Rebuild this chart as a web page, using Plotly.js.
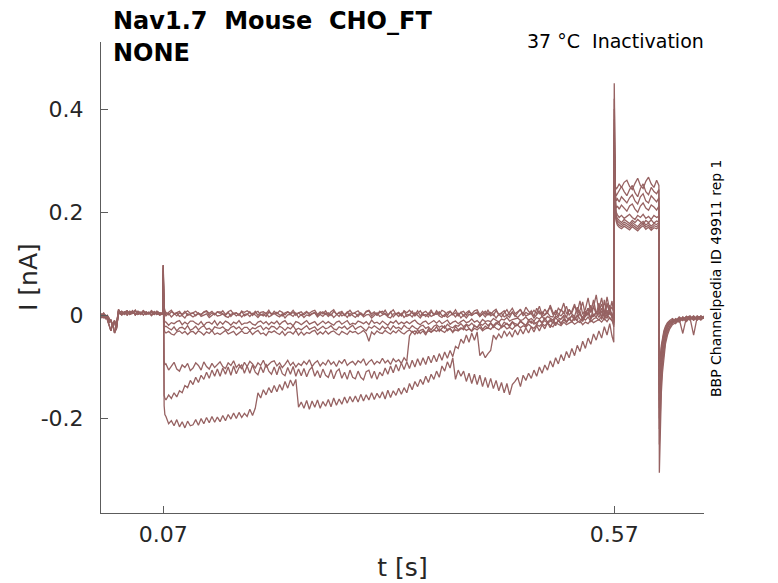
<!DOCTYPE html>
<html>
<head>
<meta charset="utf-8">
<script src="https://cdn.plot.ly/plotly-3.0.1.min.js"></script>
<style>
  html, body { margin: 0; padding: 0; background: #ffffff; }
  #chart { width: 778px; height: 583px; }
</style>
</head>
<body>
<div id="chart"></div>
<script>
// Nav1.7 inactivation traces (current in pA, time in s)

// time stamps of the four protocol segments
const tHold = [0, 0.002, 0.004, 0.006, 0.008, 0.010, 0.012, 0.014, 0.016, 0.018,
  0.0205, 0.021, 0.024, 0.027, 0.030, 0.033, 0.036, 0.039, 0.042, 0.045,
  0.048, 0.051, 0.054, 0.057, 0.060, 0.063, 0.066, 0.0695];

const tPre = [0.0700, 0.0702, 0.0705, 0.0710, 0.0718,
  0.073, 0.076, 0.079, 0.082, 0.085, 0.088, 0.091, 0.094, 0.097, 0.100,
  0.103, 0.106, 0.109, 0.112, 0.115, 0.118, 0.121, 0.124, 0.127, 0.130,
  0.133, 0.136, 0.139, 0.142, 0.145, 0.148, 0.151, 0.154, 0.157, 0.160,
  0.163, 0.166, 0.169, 0.172, 0.175, 0.178, 0.181, 0.184, 0.187, 0.190,
  0.193, 0.196, 0.199, 0.202, 0.205, 0.208, 0.211, 0.214, 0.217, 0.220,
  0.223, 0.226, 0.229, 0.232, 0.235, 0.238, 0.241, 0.244, 0.247, 0.250,
  0.253, 0.256, 0.259, 0.262, 0.265, 0.268, 0.271, 0.274, 0.277, 0.280,
  0.283, 0.286, 0.289, 0.292, 0.295, 0.298, 0.301, 0.304, 0.307, 0.310,
  0.313, 0.316, 0.319, 0.322, 0.325, 0.328, 0.331, 0.334, 0.337, 0.340,
  0.343, 0.346, 0.349, 0.352, 0.355, 0.358, 0.361, 0.364, 0.367, 0.370,
  0.373, 0.376, 0.379, 0.382, 0.385, 0.388, 0.391, 0.394, 0.397, 0.400,
  0.403, 0.406, 0.409, 0.412, 0.415, 0.418, 0.421, 0.424, 0.427, 0.430,
  0.433, 0.436, 0.439, 0.442, 0.445, 0.448, 0.451, 0.454, 0.457, 0.460,
  0.463, 0.466, 0.469, 0.472, 0.475, 0.478, 0.481, 0.484, 0.487, 0.490,
  0.493, 0.496, 0.499, 0.502, 0.505, 0.508, 0.511, 0.514, 0.517, 0.520,
  0.523, 0.526, 0.529, 0.532, 0.535, 0.538, 0.541, 0.544, 0.547, 0.550,
  0.553, 0.556, 0.559, 0.562, 0.565,
  0.5675, 0.5695];

const tTest = [0.5700, 0.5703, 0.5707, 0.5713, 0.5722, 0.5735, 0.5755, 0.578, 0.581, 0.584,
  0.587, 0.590, 0.593, 0.596, 0.599, 0.602, 0.605, 0.608, 0.611, 0.614, 0.617, 0.6195];

const tPost = [0.6200, 0.6205, 0.6212, 0.6222, 0.6235, 0.6250, 0.6268, 0.6290, 0.6315, 0.6345,
  0.638, 0.642, 0.646, 0.650, 0.654, 0.658, 0.662, 0.666, 0.6695];

// holding segment (0 - 0.07 s)
const hold1 = [0, -4, 2, -6, -3, -14, -8, -22, -12, -18, 10, 4, 8, 2, 7, 3, 9, 1, 6, 2, 8, 3, 6, 0, 7, 2, 5, 4];
const hold2 = [-2, 3, -5, 1, -8, -20, -30, -15, -34, -25, 6, 9, 3, 7, 1, 8, 4, 10, 2, 6, 1, 7, 3, 9, 2, 6, 1, 3];
const hold3 = [2, -1, 4, -3, 0, -6, -12, -18, -10, -28, 12, 5, 1, 6, 9, 2, 5, 3, 8, 4, 9, 2, 5, 6, 3, 8, 4, 2];

// conditioning pulse (0.07 - 0.57 s)
const preZero1 = [97, 60, 35, 18, 8,
  6, 1, 7, 4, -1, 5, 2, 8, 0, 3,
  5, -1, 4, 2, 6, 8, 0, 5, 1, 7,
  7, 3, 0, 6, -2, 4, 5, 1, 8, -1,
  2, 7, 0, 5, 8, 1, 3, -2, 6, 4,
  3, 6, 1, -1, 5, 7, 2, 6, 0, 5,
  0, 4, 8, 1, 3, 6, -1, 4, 7, 2,
  5, 0, 8, 3, -2, 6, 1, 7, -1, 4,
  4, -2, 5, 1, 7, 9, -1, 4, 0, 6,
  8, 2, -1, 7, -3, 3, 6, 0, 9, -2,
  1, 8, -1, 4, 9, 0, 2, -3, 7, 3,
  2, 7, 0, -2, 6, 8, 1, 5, -1, 6,
  -1, 5, 9, 0, 4, 7, -2, 3, 8, 1,
  6, 0, 9, 2, -3, 5, 11, 1, 7, -2,
  4, 12, -1, 6, 2, 9, -2, 14, 3, 7,
  1, 9, 16, 2, 7, -3, 12, 4, 18, 0,
  8, 22, 3, 10, 26, 1, 14, 6, 30, 4,
  12, 34, 5, 20, 8,
  28, 2];
const preZero2 = [92, 52, 28, 12, 4,
  -1, 4, -3, 2, 5, -2, 0, -5, 3, 1,
  -3, 1, 5, -2, 0, 3, -4, 1, 4, -1,
  0, 3, -2, -4, 2, 4, -1, 3, -3, 2,
  3, -2, 4, 1, -4, 2, -1, 5, -3, 0,
  4, 0, -3, 3, -5, 1, 2, -2, 5, -4,
  2, -4, 1, -1, 3, 5, -3, 2, -2, 4,
  -2, 3, -4, 1, 6, -1, 2, -4, 4, 0,
  -4, 2, 4, -3, 1, 2, -5, 0, 5, -2,
  1, 4, -3, -5, 3, 3, -2, 4, -4, 1,
  2, -3, 5, 0, -5, 3, -2, 4, -2, 1,
  5, -1, -4, 2, -4, 0, 3, -3, 4, -5,
  1, -5, 2, 0, 4, 4, -2, 3, -3, 5,
  -1, 3, -5, 2, 4, -3, 1, -4, 6, 0,
  -4, 2, 6, -1, 1, 4, -5, 2, 8, -2,
  2, 5, -2, -3, 10, 3, -1, 6, -4, 12,
  3, -2, 16, 1, -4, 8, 0, 20, -3, 6,
  2, 14, -5, 24, 4,
  -2, -8];
const preZero3 = [85, 45, 25, 14, 9,
  2, 6, 10, 3, 5, 8, 1, 6, 9, 4,
  5, 8, 3, 1, 7, 9, 4, 8, 2, 7,
  4, 9, 2, 7, 10, 3, 5, 0, 8, 6,
  9, 5, 2, 8, 0, 6, 7, 3, 10, 1,
  8, 3, 9, 6, 1, 7, 4, 10, 2, 5,
  7, 1, 6, 4, 8, 10, 2, 7, 3, 9,
  1, 7, 11, 2, 5, 8, 0, 6, 10, 3,
  6, 9, 2, 0, 8, 10, 3, 7, 1, 8,
  3, 10, 1, 6, 11, 2, 4, -1, 9, 5,
  10, 4, 1, 9, -1, 5, 8, 2, 11, 0,
  9, 2, 10, 7, 0, 8, 3, 11, 1, 6,
  8, 0, 7, 3, 9, 11, 1, 8, 2, 10,
  2, 8, 12, 1, 6, 9, -1, 7, 14, 3,
  7, 11, 2, 16, 8, 3, 10, 4, 18, 1,
  12, 4, 20, 6, 1, 14, 8, 24, 3, 10,
  5, 18, 7, 28, 2, 12, 34, 6, 16, 40,
  8, 22, 3, 36, 10,
  16, 6];
const preSmall1 = [80, 30, 5, -8, -12,
  -13, -19, -14, -16, -12, -10, -18, -13, -17, -11,
  -11, -15, -18, -12, -20, -14, -13, -17, -10, -19,
  -12, -17, -11, -14, -19, -13, -16, -10, -18, -15,
  -15, -12, -17, -19, -13, -11, -16, -12, -18, -13,
  -16, -11, -18, -13, -10, -17, -15, -20, -12, -14,
  -18, -14, -10, -17, -15, -12, -19, -14, -11, -16,
  -12, -16, -19, -13, -11, -17, -14, -10, -18, -15,
  -17, -11, -13, -16, -12, -18, -9, -15, -13, -17,
  -11, -16, -19, -12, -15, -10, -17, -13, -16, -12,
  -16, -12, -9, -15, -18, -13, -11, -17, -14, -10,
  -15, -10, -16, -12, -9, -17, -13, -11, -16, -12,
  -9, -14, -12, -7, -13, -10, -15, -8, -12, -10,
  -12, -6, -10, -13, -7, -9, -4, -11, -8, -6,
  -5, -10, -8, -3, -9, -6, -11, -4, -7, -2,
  -8, -2, -6, -9, -1, -5, -7, 0, -4, -8,
  0, -6, -2, 4, -5, -1, 6, -4, 2, -3,
  8, -2, 3, -6, 10,
  2, -12];
const preSmall2 = [75, 20, -5, -18, -22,
  -21, -25, -28, -22, -30, -24, -23, -27, -20, -29,
  -26, -21, -28, -23, -20, -27, -25, -30, -22, -24,
  -25, -22, -27, -29, -23, -21, -26, -22, -28, -23,
  -23, -29, -24, -26, -22, -20, -28, -23, -27, -21,
  -22, -27, -21, -24, -29, -23, -26, -20, -28, -25,
  -28, -24, -20, -27, -25, -22, -29, -24, -21, -26,
  -24, -20, -26, -28, -22, -25, -21, -27, -23, -19,
  -27, -23, -21, -26, -30, -22, -25, -20, -24, -28,
  -21, -26, -22, -28, -20, -25, -23, -27, -19, -24,
  -26, -20, -24, -27, -21, -19, -25, -22, -28, -21,
  -18, -23, -20, -25, -17, -22, -24, -19, -21, -16,
  -22, -17, -20, -15, -21, -23, -16, -19, -14, -20,
  -15, -20, -14, -18, -21, -13, -17, -19, -12, -16,
  -18, -12, -16, -19, -13, -11, -17, -14, -10, -15,
  -10, -15, -12, -8, -16, -11, -14, -9, -13, -7,
  -12, -6, -11, -14, -5, -9, -3, -12, -7, -4,
  -9, -2, -8, 2, -6,
  -10, -18];
const preSmall3 = [70, 10, -15, -27, -32,
  -34, -31, -36, -38, -32, -30, -35, -31, -37, -32,
  -31, -36, -30, -33, -38, -32, -35, -29, -37, -34,
  -37, -33, -29, -36, -34, -31, -38, -33, -30, -35,
  -35, -30, -37, -32, -29, -36, -34, -39, -31, -33,
  -30, -34, -37, -31, -39, -33, -32, -36, -29, -38,
  -32, -38, -33, -35, -31, -29, -37, -32, -36, -30,
  -36, -32, -30, -35, -38, -31, -34, -37, -30, -33,
  -31, -36, -33, -29, -35, -50, -32, -37, -30, -34,
  -35, -29, -33, -36, -30, -34, -28, -33, -36, -31,
  -28, -33, -30, -35, -29, -27, -34, -30, -32, -28,
  -31, -26, -30, -33, -27, -25, -32, -28, -30, -26,
  -24, -29, -26, -31, -25, -28, -23, -30, -26, -24,
  -27, -21, -25, -28, -22, -20, -26, -23, -27, -21,
  -19, -24, -20, -23, -17, -22, -25, -18, -21, -16,
  -20, -15, -19, -22, -14, -17, -20, -13, -18, -15,
  -12, -17, -14, -10, -18, -13, -16, -9, -14, -11,
  -8, -13, -6, -12, -4,
  -10, -14];
const preMidA = [97, -20, -70, -88, -95,
  -94, -106, -98, -91, -104, -108, -96, -101, -93, -107,
  -102, -92, -97, -106, -90, -99, -104, -93, -101, -95,
  -90, -99, -103, -92, -97, -88, -101, -95, -104, -91,
  -99, -89, -94, -102, -92, -97, -87, -100, -95, -90,
  -88, -98, -92, -101, -95, -87, -97, -91, -100, -93,
  -97, -89, -95, -86, -99, -92, -88, -98, -91, -96,
  -86, -95, -90, -99, -88, -93, -85, -97, -92, -89,
  -96, -88, -92, -84, -97, -90, -86, -95, -89, -93,
  -83, -92, -87, -95, -84, -90, -86, -93, -82, -89,
  -40, -31, -37, -28, -35, -30, -38, -26, -33, -29,
  -22, -31, -25, -20, -30, -26, -33, -21, -28, -24,
  -28, -18, -25, -30, -19, -24, -17, -27, -21, -25,
  -14, -23, -17, -12, -24, -19, -15, -22, -13, -20,
  -19, -10, -16, -21, -9, -15, -12, -18, -8, -14,
  -5, -13, -8, -15, -4, -11, -7, -2, -12, -6,
  -1, -9, 1, -7, -10, -2, 4, -6, 0, 6,
  -4, 8, -1, 10, 2,
  5, -8];
const preMidB = [97, -50, -130, -155, -160,
  -164, -154, -161, -150, -158, -146, -150, -136, -140, -126,
  -134, -120, -130, -116, -124, -110, -122, -106, -118, -104,
  -118, -102, -114, -100, -116, -98, -113, -101, -96, -112,
  -98, -112, -96, -110, -115, -99, -111, -94, -108, -114,
  -100, -115, -98, -113, -117, -101, -114, -99, -118, -104,
  -117, -103, -119, -106, -100, -118, -107, -121, -104, -116,
  -120, -105, -123, -109, -104, -122, -110, -124, -106, -120,
  -123, -108, -120, -125, -109, -106, -122, -108, -124, -110,
  -117, -102, -114, -98, -111, -95, -108, -92, -105, -90,
  -103, -87, -100, -84, -97, -82, -95, -79, -92, -77,
  -90, -74, -87, -71, -83, -68, -80, -60, -64, -46,
  -54, -38, -52, -34, -48, -32, -78, -70, -82, -74,
  -68, -38, -46, -36, -44, -30, -40, -32, -42, -28,
  -38, -26, -36, -24, -34, -22, -32, -20, -30, -18,
  -26, -14, -24, -12, -20, -8, -18, -6, -14, -4,
  -12, -2, -10, 8, -12, 4, 14, -8, 18, 2,
  24, -8, 30, 0, 20,
  -6, -22];
const preDeep = [97, -60, -150, -175, -192,
  -196, -210, -204, -214, -202, -216, -206, -218, -205, -214,
  -212, -202, -213, -200, -210, -198, -208, -196, -207, -197,
  -206, -194, -204, -192, -201, -189, -200, -188, -198, -190,
  -196, -182, -194, -180, -150, -160, -144, -154, -140, -150,
  -136, -148, -134, -145, -128, -141, -125, -137, -124, -178,
  -168, -180, -165, -182, -166, -178, -164, -180, -167, -176,
  -163, -177, -160, -174, -162, -172, -158, -170, -157, -168,
  -156, -168, -153, -166, -154, -164, -150, -163, -151, -160,
  -148, -162, -145, -159, -146, -155, -141, -153, -140, -150,
  -132, -144, -128, -138, -124, -134, -118, -130, -114, -124,
  -108, -120, -98, -108, -90, -102, -82, -124, -106, -118,
  -108, -128, -112, -132, -114, -134, -116, -138, -120, -140,
  -122, -142, -126, -146, -130, -150, -132, -154, -134, -128,
  -120, -138, -116, -126, -112, -122, -106, -118, -100, -112,
  -96, -106, -88, -100, -82, -94, -76, -88, -70, -82,
  -64, -78, -58, -70, -50, -64, -44, -56, -36, -48,
  -30, -44, -22, -38, -16,
  -40, -52];

// test pulse (0.57 - 0.62 s)
const test1 = [450, 330, 270, 250, 245, 248, 255, 248, 258, 262, 250, 244, 256, 266, 252, 246, 260, 268, 255, 248, 262, 252];
const test2 = [420, 310, 260, 238, 232, 236, 242, 250, 240, 232, 244, 252, 238, 230, 246, 255, 240, 234, 248, 240, 236, 244];
const test3 = [400, 300, 250, 228, 222, 226, 220, 230, 224, 218, 228, 234, 222, 216, 230, 236, 222, 218, 232, 226, 220, 228];
const test4 = [380, 290, 240, 218, 208, 212, 206, 214, 208, 202, 212, 216, 206, 200, 212, 218, 208, 204, 214, 210, 204, 212];
const test5 = [360, 280, 235, 210, 200, 195, 190, 194, 188, 192, 196, 190, 186, 194, 190, 196, 188, 192, 186, 194, 190, 192];
const test6 = [350, 270, 228, 205, 194, 188, 184, 180, 186, 182, 178, 184, 180, 186, 181, 177, 184, 180, 185, 179, 183, 181];
const test7 = [340, 265, 222, 200, 190, 183, 179, 176, 181, 177, 174, 180, 176, 172, 178, 182, 175, 179, 173, 178, 176, 180];
const test8 = [330, 260, 218, 196, 186, 179, 175, 172, 177, 173, 170, 176, 172, 168, 174, 178, 171, 175, 169, 174, 172, 176];
const test9 = [320, 255, 214, 192, 182, 175, 171, 168, 173, 169, 166, 172, 168, 164, 170, 174, 167, 171, 165, 170, 168, 172];

// tail current after the test pulse (0.62 s - end)
const post1 = [-305, -250, -195, -150, -110, -78, -55, -38, -26, -18, -14, -10, -6, -12, -4, -9, -2, -7, -5];
const post2 = [-250, -210, -170, -130, -95, -68, -48, -33, -22, -16, -9, -13, -5, -10, -3, -8, -1, -6, -2];
const post3 = [-220, -185, -150, -115, -85, -60, -42, -29, -20, -12, -16, -7, -35, -4, -9, -2, -7, -1, -4];
const post4 = [-200, -165, -130, -100, -74, -52, -37, -25, -17, -14, -8, -12, -4, -9, -6, -1, -8, -3, -6];
const post5 = [-180, -150, -118, -90, -66, -47, -33, -23, -15, -10, -13, -6, -10, -2, -7, -4, -9, -2, -5];
const post6 = [-165, -135, -105, -80, -58, -42, -30, -20, -14, -12, -7, -11, -3, -8, -5, -38, -3, -6, -1];
const post7 = [-150, -120, -95, -72, -52, -38, -27, -18, -12, -8, -12, -5, -9, -2, -8, -3, -6, -1, -4];
const post8 = [-135, -108, -85, -64, -47, -34, -24, -16, -11, -14, -6, -10, -4, -11, -2, -7, -4, -9, -3];
const post9 = [-120, -96, -76, -58, -42, -30, -21, -14, -10, -6, -11, -3, -8, -5, -1, -9, -4, -2, -6];

const sweeps = [
    [hold1, preZero1, test1, post9],
    [hold2, preZero2, test2, post8],
    [hold3, preZero3, test3, post7],
    [hold1, preSmall1, test4, post6],
    [hold2, preSmall2, test5, post5],
    [hold3, preSmall3, test6, post4],
    [hold1, preMidA, test7, post3],
    [hold2, preMidB, test8, post2],
    [hold3, preDeep, test9, post1]
];

const traceColor = '#966262';
const tAll = tHold.concat(tPre, tTest, tPost);

const data = sweeps.map(parts => ({
    x: tAll,
    y: [].concat(...parts).map(pA => pA / 1000),
    type: 'scatter',
    mode: 'lines',
    line: { color: traceColor, width: 1.3 },
    hoverinfo: 'skip',
    showlegend: false
}));

const font = 'DejaVu Sans, sans-serif';
const axisColor = '#5c5c5c';
const textColor = '#262626';

const layout = {
    width: 778,
    height: 583,
    margin: { l: 101, r: 74, t: 42, b: 70 },
    paper_bgcolor: '#ffffff',
    plot_bgcolor: '#ffffff',
    font: { family: font, color: textColor },
    showlegend: false,
    xaxis: {
        range: [0.001, 0.6695],
        tickvals: [0.07, 0.57],
        ticktext: ['0.07', '0.57'],
        ticks: 'inside',
        ticklen: 7,
        tickcolor: axisColor,
        tickfont: { size: 22, color: textColor },
        ticklabelstandoff: 2,
        showline: true,
        linecolor: axisColor,
        linewidth: 1,
        showgrid: false,
        zeroline: false,
        title: { text: 't [s]', font: { size: 25, color: textColor }, standoff: 12 }
    },
    yaxis: {
        range: [-0.383, 0.530],
        tickvals: [-0.2, 0, 0.2, 0.4],
        ticktext: ['-0.2', '0', '0.2', '0.4'],
        ticks: 'inside',
        ticklen: 7,
        tickcolor: axisColor,
        tickfont: { size: 22, color: textColor },
        ticklabelstandoff: 12,
        showline: true,
        linecolor: axisColor,
        linewidth: 1,
        showgrid: false,
        zeroline: false
    },
    annotations: [
        {
            // y axis title, placed by hand to sit where the reference has it
            text: 'I [nA]',
            xref: 'paper', yref: 'paper',
            x: -0.1211, y: 0.501, xanchor: 'center', yanchor: 'middle',
            textangle: -90,
            showarrow: false,
            font: { family: font, size: 25, color: textColor }
        },
        {
            text: '<b>Nav1.7\u00a0\u00a0Mouse\u00a0\u00a0CHO_FT</b>',
            xref: 'paper', yref: 'paper',
            x: 0.0166, y: 1.0446, xanchor: 'left', yanchor: 'middle',
            showarrow: false,
            font: { family: font, size: 24, color: '#000000' }
        },
        {
            text: '<b>NONE</b>',
            xref: 'paper', yref: 'paper',
            x: 0.0166, y: 0.9766, xanchor: 'left', yanchor: 'middle',
            showarrow: false,
            font: { family: font, size: 24, color: '#000000' }
        },
        {
            text: '37 °C\u00a0\u00a0Inactivation',
            xref: 'paper', yref: 'paper',
            x: 1.0033, y: 1.002, xanchor: 'right', yanchor: 'middle',
            showarrow: false,
            font: { family: font, size: 19, color: '#000000' }
        },
        {
            text: 'BBP Channelpedia ID 49911 rep 1',
            xref: 'paper', yref: 'paper',
            x: 1.0199, y: 0.4989, xanchor: 'center', yanchor: 'middle',
            textangle: -90,
            showarrow: false,
            font: { family: font, size: 14, color: '#000000' }
        }
    ]
};

Plotly.newPlot('chart', data, layout, { displayModeBar: false, staticPlot: true });
</script>
</body>
</html>
